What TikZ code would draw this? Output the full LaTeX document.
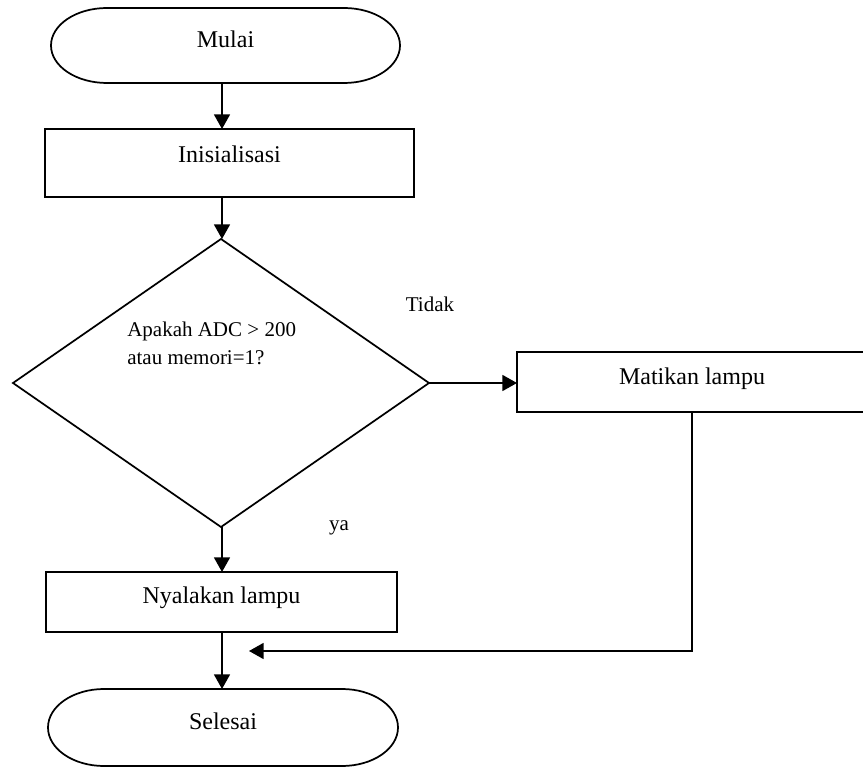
\documentclass[tikz,border=0pt]{standalone}
\usepackage{fontspec}
\setmainfont{Liberation Serif}
\usetikzlibrary{shapes.geometric,arrows.meta,calc}
\begin{document}
\begin{tikzpicture}[x=0.75pt,y=0.75pt,
  ln/.style={line width=1.3pt, line join=miter},
  arr/.style={ln,-{Triangle[length=11pt,width=12pt]}},
  boxtxt/.style={font=\fontsize{18}{22}\selectfont, text height=0.6em, text depth=0.32em, inner sep=0pt},
  procbox/.style={boxtxt, draw, ln, rectangle, outer sep=0pt},
  termbox/.style={boxtxt, draw=none, rectangle, outer sep=0pt},
  decbox/.style={diamond, draw, ln, inner sep=0pt, outer sep=0pt, minimum width=312pt, minimum height=216pt},
  lbl/.style={font=\fontsize{15.75}{21}\selectfont, inner sep=0pt}
]
\fill[white] (0,0) rectangle (863,768);
\useasboundingbox (0,0) rectangle (863,768);

\coordinate (spine) at (222,400);

% terminator: Mulai
\node[termbox, minimum width=261.75pt, minimum height=56.25pt] (start) at (225.5,722.5) {Mulai};
\draw[ln] ([xshift=42pt]start.north west) -- ([xshift=-42pt]start.north east)
  arc[start angle=90,end angle=-90,x radius=42pt,y radius=28.125pt]
  -- ([xshift=42pt]start.south west)
  arc[start angle=270,end angle=90,x radius=42pt,y radius=28.125pt] -- cycle;

\node[procbox, minimum width=276.75pt, minimum height=51pt, text height=0.46em, text depth=0.46em] (init) at (229.5,605) {Inisialisasi};

\node[decbox] (dec) at (221,385) {};
\node[lbl, align=left, anchor=base west] (qtext) at (127,403) {Apakah ADC > 200\\atau memori=1?};

\node[procbox, minimum width=262.5pt, minimum height=45pt, text height=0.66em, text depth=0.26em] (off) at (692,386) {Matikan lampu};

\node[procbox, minimum width=263.25pt, minimum height=45pt] (on) at (221.5,166) {Nyalakan lampu};

% terminator: Selesai
\node[termbox, minimum width=262.5pt, minimum height=57.75pt] (stop) at (223,40.5) {Selesai};
\draw[ln] ([xshift=42pt]stop.north west) -- ([xshift=-42pt]stop.north east)
  arc[start angle=90,end angle=-90,x radius=42pt,y radius=28.875pt]
  -- ([xshift=42pt]stop.south west)
  arc[start angle=270,end angle=90,x radius=42pt,y radius=28.875pt] -- cycle;

\node[lbl, anchor=base] (tidak) at (430,456) {Tidak};
\node[lbl, anchor=base] (ya) at (339,238) {ya};

\coordinate (join) at (249,117);

\draw[arr] (start.south -| spine) -- (init.north -| spine);
\draw[arr] (init.south -| spine) -- (dec.north -| spine);
\draw[arr] (dec.east) -- (dec.east -| off.west);
\draw[arr] (dec.south -| spine) -- (on.north -| spine);
\draw[arr] (on.south -| spine) -- (stop.north -| spine);
\draw[arr] (off.south) |- (join);
\end{tikzpicture}
\end{document}
